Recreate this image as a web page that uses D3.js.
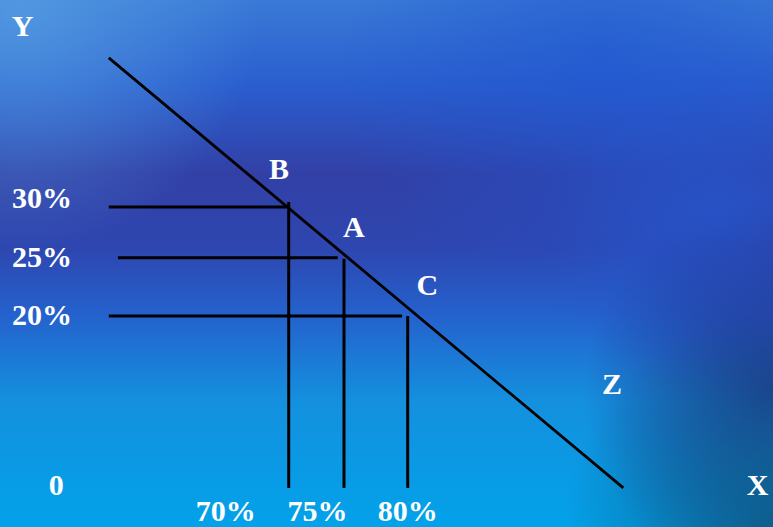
<!DOCTYPE html>
<html>
<head>
<meta charset="utf-8">
<script src="https://cdn.jsdelivr.net/npm/d3@7"></script>
<style>
  html, body { margin: 0; padding: 0; overflow: hidden; }
  svg { display: block; }
  text { font-family: "Liberation Serif", "Times New Roman", serif; font-weight: bold; fill: #fff; }
</style>
</head>
<body>
<svg></svg>
<script>
const width = 773;
const height = 527;

// chart values, in the diagram's own units (0..100 on each axis)
const demandLine = [
  {q: 7.4, p: 92.9},
  {q: 80.9, p: -0.2}
];
const pointNames = ["B", "A", "C"];
const pointQ = [33.1, 41.0, 50.1];
const pointP = [61.7, 49.4, 37.0];
const priceLevels = [60.6, 49.6, 37.0];
const priceStart = [7.4, 8.7, 7.4];
const priceEnd = [33.3, 40.1, 49.3];
const yTickLabels = ["30%", "25%", "20%"];
const yTickPos = [62.6, 49.8, 37.4];
const xTickLabels = ["70%", "75%", "80%"];
const xTickPos = [24.1, 37.2, 50.1];
const axisNames = [
  {name: "Y", q: -4.9, p: 97.6},
  {name: "0", q: -0.1, p: -1.7},
  {name: "X", q: 100.1, p: -1.7},
  {name: "Z", q: 79.3, p: 20.1}
];
const pointLabelQ = [31.7, 42.4, 52.9];
const pointLabelP = [66.7, 54.1, 41.6];

const x = d3.scaleLinear().domain([0, 100]).range([57, 757]);
const y = d3.scaleLinear().domain([0, 100]).range([487, 25]);

const svg = d3.select("svg")
    .attr("width", width)
    .attr("height", height);

// ---- background: slide-style blue gradient
const defs = svg.append("defs");

const base = defs.append("linearGradient")
    .attr("id", "base")
    .attr("x1", 0).attr("y1", 0).attr("x2", 0).attr("y2", 1);
[
  [0, "#3a7ad6"], [0.16, "#2a5ecf"], [0.33, "#3240a6"], [0.47, "#2e46b0"],
  [0.6, "#2462cd"], [0.76, "#1490de"], [1, "#02a2ea"]
].forEach(function (s) {
  base.append("stop").attr("offset", s[0]).attr("stop-color", s[1]);
});

function blob(id, cx, cy, r, color, op) {
  const g = defs.append("radialGradient")
      .attr("id", id)
      .attr("cx", cx).attr("cy", cy).attr("r", r)
      .attr("gradientUnits", "userSpaceOnUse");
  g.append("stop").attr("offset", 0).attr("stop-color", color).attr("stop-opacity", op);
  g.append("stop").attr("offset", 1).attr("stop-color", color).attr("stop-opacity", 0);
}
blob("topleft", 20, 10, 240, "#5aa4e4", 0.7);
blob("topright", 600, 60, 260, "#1f56d0", 0.6);
blob("rightmid", 720, 220, 180, "#2458d0", 0.7);
blob("rightnavy", 773, 390, 190, "#222e84", 0.85);
blob("bottomright", 773, 527, 210, "#0d5a86", 0.9);

svg.append("rect").attr("width", width).attr("height", height).attr("fill", "url(#base)");
["topleft", "topright", "rightmid", "rightnavy", "bottomright"].forEach(function (id) {
  svg.append("rect").attr("width", width).attr("height", height).attr("fill", "url(#" + id + ")");
});

// ---- lines
const line = d3.line()
    .x(function (d) { return x(d.q); })
    .y(function (d) { return y(d.p); });

svg.append("path")
    .attr("d", line(demandLine))
    .attr("fill", "none")
    .attr("stroke", "#000")
    .attr("stroke-width", 2.8);

svg.selectAll(".hline")
  .data(priceLevels)
  .enter().append("line")
    .attr("class", "hline")
    .attr("x1", function (d, i) { return x(priceStart[i]); })
    .attr("x2", function (d, i) { return x(priceEnd[i]); })
    .attr("y1", function (d) { return y(d); })
    .attr("y2", function (d) { return y(d); })
    .attr("stroke", "#000")
    .attr("stroke-width", 3);

svg.selectAll(".vline")
  .data(pointQ)
  .enter().append("line")
    .attr("class", "vline")
    .attr("x1", function (d) { return x(d); })
    .attr("x2", function (d) { return x(d); })
    .attr("y1", function (d, i) { return y(pointP[i]); })
    .attr("y2", y(-0.2))
    .attr("stroke", "#000")
    .attr("stroke-width", 3);

// ---- labels
svg.selectAll(".ylab")
  .data(yTickLabels)
  .enter().append("text")
    .attr("class", "ylab")
    .attr("x", 12)
    .attr("y", function (d, i) { return y(yTickPos[i]); })
    .attr("dy", "0.35em")
    .attr("font-size", 30)
    .text(function (d) { return d; });

svg.selectAll(".xlab")
  .data(xTickLabels)
  .enter().append("text")
    .attr("class", "xlab")
    .attr("x", function (d, i) { return x(xTickPos[i]); })
    .attr("y", 521)
    .attr("text-anchor", "middle")
    .attr("font-size", 30)
    .text(function (d) { return d; });

svg.selectAll(".ptlab")
  .data(pointNames)
  .enter().append("text")
    .attr("class", "ptlab")
    .attr("x", function (d, i) { return x(pointLabelQ[i]); })
    .attr("y", function (d, i) { return y(pointLabelP[i]); })
    .attr("text-anchor", "middle")
    .attr("font-size", 30)
    .text(function (d) { return d; });

svg.selectAll(".axlab")
  .data(axisNames)
  .enter().append("text")
    .attr("class", "axlab")
    .attr("x", function (d) { return x(d.q); })
    .attr("y", function (d) { return y(d.p); })
    .attr("text-anchor", "middle")
    .attr("font-size", 30)
    .text(function (d) { return d.name; });
</script>
</body>
</html>
